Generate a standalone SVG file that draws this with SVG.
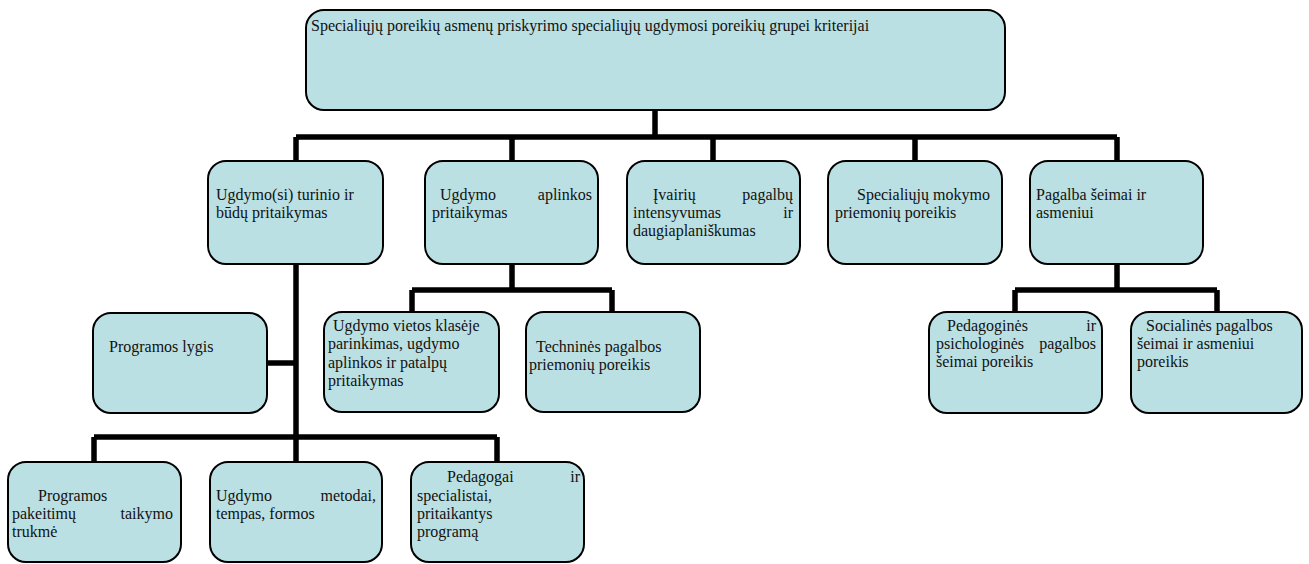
<svg xmlns="http://www.w3.org/2000/svg" width="1309" height="564" viewBox="0 0 1309 564">
<style>
.box{fill:#BBE0E3;stroke:#000;stroke-width:2}
.t{font-family:'Liberation Serif','DejaVu Serif','Noto Serif',serif;font-size:16px;fill:#111}
.e{text-anchor:end}
.c{fill:none;stroke:#000;stroke-width:5.5;stroke-linecap:butt}
</style>
<rect width="1309" height="564" fill="#fff"/>
<g id="connectors">
<path class="c" d="M655 110V137M296 137H1117M296 137V161M512 137V161M713 137V161M915 137V161M1117 137V161"/>
<path class="c" d="M296 264V462M267 363H296M94 437H497M94 437V462M497 437V462"/>
<path class="c" d="M512 264V290M412 290H612M412 290V312M612 290V312"/>
<path class="c" d="M1117 264V290M1015 290H1217M1015 290V312M1217 290V312"/>
</g>
<g id="root">
<rect class="box" x="306" y="10" width="699" height="100" rx="18"/>
<text class="t" x="311" y="31">Specialiųjų poreikių asmenų priskyrimo specialiųjų ugdymosi poreikių grupei kriterijai</text>
</g>
<g id="n1">
<rect class="box" x="208" y="161" width="175" height="103" rx="18"/>
<text class="t" x="216" y="200">Ugdymo(si) turinio ir</text>
<text class="t" x="216" y="218">būdų pritaikymas</text>
</g>
<g id="n2">
<rect class="box" x="425" y="161" width="173" height="103" rx="18"/>
<text class="t" x="440" y="200">Ugdymo</text>
<text class="t e" x="592" y="200">aplinkos</text>
<text class="t" x="432" y="218">pritaikymas</text>
</g>
<g id="n3">
<rect class="box" x="627" y="161" width="173" height="103" rx="18"/>
<text class="t" x="653" y="200">Įvairių</text>
<text class="t e" x="793" y="200">pagalbų</text>
<text class="t" x="633" y="218">intensyvumas</text>
<text class="t e" x="793" y="218">ir</text>
<text class="t" x="633" y="236">daugiaplaniškumas</text>
</g>
<g id="n4">
<rect class="box" x="828" y="161" width="174" height="103" rx="18"/>
<text class="t" x="857" y="200">Specialiųjų mokymo</text>
<text class="t" x="835" y="218">priemonių poreikis</text>
</g>
<g id="n5">
<rect class="box" x="1030" y="161" width="173" height="103" rx="18"/>
<text class="t" x="1036" y="200">Pagalba šeimai ir</text>
<text class="t" x="1036" y="218">asmeniui</text>
</g>
<g id="n6">
<rect class="box" x="93" y="313" width="174" height="100" rx="18"/>
<text class="t" x="109" y="352">Programos lygis</text>
</g>
<g id="n7">
<rect class="box" x="324" y="312" width="175" height="100" rx="18"/>
<text class="t" x="333" y="331">Ugdymo vietos klasėje</text>
<text class="t" x="328" y="349">parinkimas, ugdymo</text>
<text class="t" x="328" y="368">aplinkos ir patalpų</text>
<text class="t" x="328" y="386">pritaikymas</text>
</g>
<g id="n8">
<rect class="box" x="526" y="312" width="174" height="100" rx="18"/>
<text class="t" x="536" y="352">Techninės pagalbos</text>
<text class="t" x="529" y="370">priemonių poreikis</text>
</g>
<g id="n9">
<rect class="box" x="929" y="312" width="173" height="101" rx="18"/>
<text class="t" x="947" y="331">Pedagoginės</text>
<text class="t e" x="1096" y="331">ir</text>
<text class="t" x="936" y="349">psichologinės</text>
<text class="t e" x="1096" y="349">pagalbos</text>
<text class="t" x="936" y="367">šeimai poreikis</text>
</g>
<g id="n10">
<rect class="box" x="1131" y="312" width="171" height="101" rx="18"/>
<text class="t" x="1146" y="331">Socialinės pagalbos</text>
<text class="t" x="1137" y="349">šeimai ir asmeniui</text>
<text class="t" x="1137" y="367">poreikis</text>
</g>
<g id="n11">
<rect class="box" x="8" y="462" width="173" height="100" rx="18"/>
<text class="t" x="38" y="501">Programos</text>
<text class="t" x="12" y="519">pakeitimų</text>
<text class="t e" x="173" y="519">taikymo</text>
<text class="t" x="12" y="537">trukmė</text>
</g>
<g id="n12">
<rect class="box" x="210" y="462" width="172" height="100" rx="18"/>
<text class="t" x="216" y="501">Ugdymo</text>
<text class="t e" x="376" y="501">metodai,</text>
<text class="t" x="216" y="519">tempas, formos</text>
</g>
<g id="n13">
<rect class="box" x="411" y="462" width="173" height="100" rx="18"/>
<text class="t" x="447" y="482">Pedagogai</text>
<text class="t e" x="580" y="482">ir</text>
<text class="t" x="417" y="501">specialistai,</text>
<text class="t" x="417" y="519">pritaikantys</text>
<text class="t" x="417" y="537">programą</text>
</g>
</svg>
